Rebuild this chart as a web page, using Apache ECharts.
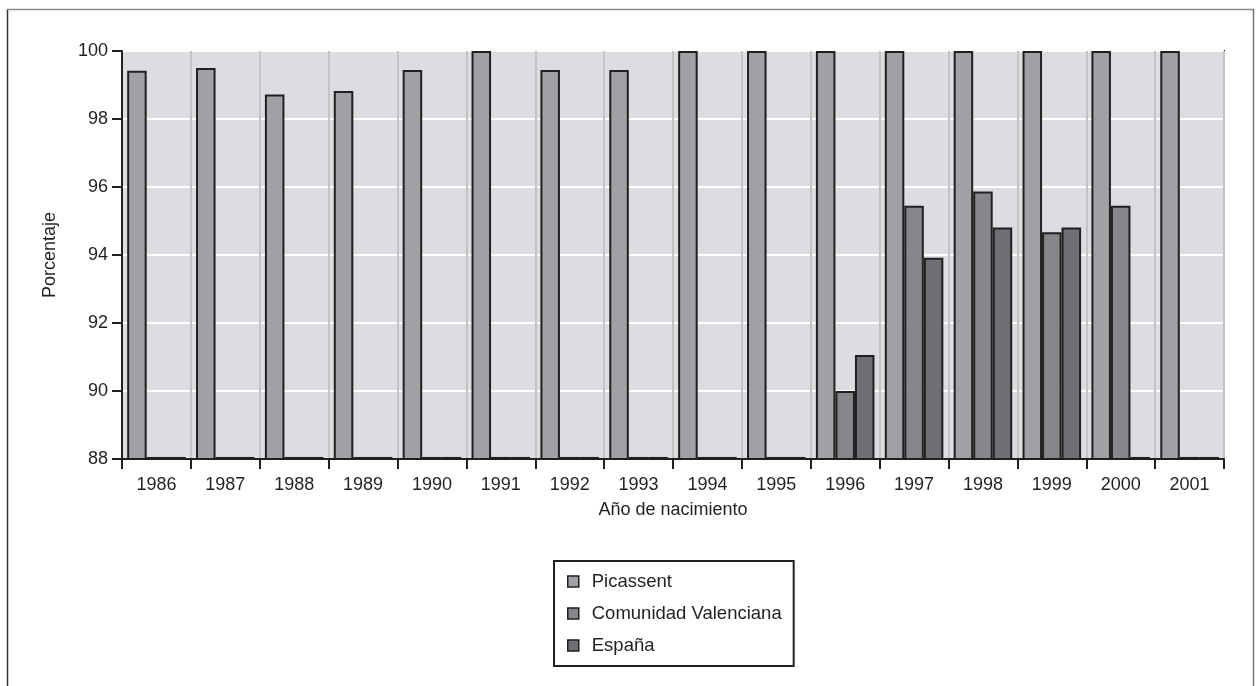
<!DOCTYPE html>
<html>
<head>
<meta charset="utf-8">
<script src="https://cdn.jsdelivr.net/npm/echarts@6/dist/echarts.min.js"></script>
<style>
html,body{margin:0;padding:0;background:#fff;}
#chart{width:1259px;height:686px;}
</style>
</head>
<body>
<div id="chart"></div>
<script>
const years = ['1986','1987','1988','1989','1990','1991','1992','1993','1994','1995','1996','1997','1998','1999','2000','2001'];
const seriesNames = ['Picassent','Comunidad Valenciana','España'];
const picassent = [99.42, 99.5, 98.72, 98.82, 99.44, 100, 99.44, 99.44, 100, 100, 100, 100, 100, 100, 100, 100];
const comunidadValenciana = [88.06, 88.06, 88.06, 88.06, 88.06, 88.06, 88.06, 88.06, 88.06, 88.06, 90.0, 95.45, 95.87, 94.67, 95.45, 88.06];
const espana = [88.06, 88.06, 88.06, 88.06, 88.06, 88.06, 88.06, 88.06, 88.06, 88.06, 91.06, 93.92, 94.81, 94.81, 88.06, 88.06];
const yMin = 88, yMax = 100, yStep = 2;

const FONT = 'Liberation Sans, Arial, Helvetica, sans-serif';
const INK = '#231f20';
const colors = ['#a0a1a4', '#86878b', '#6e6f73'];
const values = [picassent, comunidadValenciana, espana];

const chart = echarts.init(document.getElementById('chart'), null, {renderer: 'canvas'});
chart.setOption({
  animation: false,
  backgroundColor: '#ffffff',
  textStyle: {fontFamily: FONT},
  grid: {
    left: 122, top: 51, right: 35, bottom: 227,
    show: true, backgroundColor: '#dcdde0', borderColor: INK, borderWidth: 2
  },
  xAxis: {
    type: 'category',
    data: years,
    boundaryGap: true,
    name: 'Año de nacimiento',
    nameLocation: 'middle',
    nameGap: 42,
    nameTextStyle: {fontSize: 18, color: INK, fontFamily: FONT},
    axisLine: {lineStyle: {color: INK, width: 2}},
    axisTick: {show: true, length: 10, alignWithLabel: false, lineStyle: {color: INK, width: 2}},
    axisLabel: {fontSize: 18, color: INK, margin: 17, fontFamily: FONT},
    splitLine: {show: true, lineStyle: {color: '#c3c4c6', width: 2}}
  },
  yAxis: {
    type: 'value',
    min: yMin, max: yMax, interval: yStep,
    name: 'Porcentaje',
    nameLocation: 'middle',
    nameRotate: 90,
    nameGap: 63,
    nameTextStyle: {fontSize: 18, color: INK, fontFamily: FONT},
    axisLine: {show: true, lineStyle: {color: INK, width: 2}},
    axisTick: {show: true, length: 10, lineStyle: {color: INK, width: 2}},
    axisLabel: {fontSize: 18, color: INK, margin: 14, fontFamily: FONT},
    splitLine: {show: true, lineStyle: {color: '#ffffff', width: 2}}
  },
  legend: {
    orient: 'vertical',
    left: 554, top: 561,
    data: seriesNames,
    padding: [11, 12, 11, 13],
    itemGap: 13,
    itemWidth: 11, itemHeight: 11,
    icon: 'rect',
    borderColor: INK, borderWidth: 2,
    itemStyle: {borderColor: INK, borderWidth: 1.5},
    textStyle: {fontSize: 18.5, color: INK, fontFamily: FONT, padding: [0, 0, 0, 8]}
  },
  graphic: [
    {type: 'line', silent: true, shape: {x1: 7.5, y1: 686, x2: 7.5, y2: 9.5}, style: {stroke: '#333333', lineWidth: 1.5}},
    {type: 'line', silent: true, shape: {x1: 7, y1: 9.5, x2: 1254, y2: 9.5}, style: {stroke: '#8a8a8a', lineWidth: 1.5}},
    {type: 'line', silent: true, shape: {x1: 1253.5, y1: 9, x2: 1253.5, y2: 686}, style: {stroke: '#777777', lineWidth: 1.5}}
  ],
  series: seriesNames.map((n, i) => ({
    name: n,
    type: 'bar',
    data: values[i],
    barGap: '0%',
    barCategoryGap: '15%',
    itemStyle: {color: colors[i], borderColor: INK, borderWidth: 2}
  }))
});
</script>
</body>
</html>
